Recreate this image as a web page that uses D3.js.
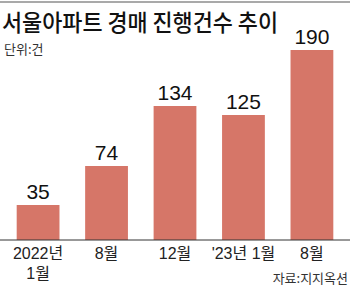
<!DOCTYPE html>
<html><head><meta charset="utf-8">
<script src="https://cdn.jsdelivr.net/npm/d3@7/dist/d3.min.js"></script>
<style>body{margin:0;background:#fff}svg{display:block}</style>
</head><body>
<script>
const categories = [["2022년","1월"],["8월"],["12월"],["'23년 1월"],["8월"]];
const values = [35, 74, 134, 125, 190];
const title = "서울아파트 경매 진행건수 추이";
const unit = "단위:건";
const source = "자료:지지옥션";

const W = 350, H = 288;
const svg = d3.select("body").append("svg").attr("width", W).attr("height", H);
const kr = "'Noto Sans CJK KR', sans-serif";
const num = "'Liberation Sans Narrow', 'Liberation Sans', 'Noto Sans CJK KR', sans-serif";
const x = d3.scaleBand().domain(d3.range(values.length)).range([3, 347]).paddingInner(0.375).paddingOuter(0.2);
const y = d3.scaleLinear().domain([0, 190]).range([240, 50]);

svg.append("line").attr("x1",0).attr("x2",W).attr("y1",2).attr("y2",2).attr("stroke","#8c8c8c").attr("stroke-width",1.5);
svg.append("text").attr("x",2).attr("y",31).attr("font-family",kr).attr("font-size",23).attr("font-weight",500)
  .attr("fill","#111").attr("textLength",276).attr("lengthAdjust","spacingAndGlyphs").text(title);
svg.append("text").attr("x",4).attr("y",54).attr("font-family",kr).attr("font-size",13).attr("fill","#333").text(unit);

svg.selectAll("rect.bar").data(values).join("rect").attr("class","bar")
  .attr("x",(d,i)=>x(i)).attr("width",x.bandwidth()).attr("y",d=>y(d)).attr("height",d=>y(0)-y(d)).attr("fill","#d67668");

svg.selectAll("text.val").data(values).join("text").attr("class","val")
  .attr("x",(d,i)=>x(i)+x.bandwidth()/2).attr("y",d=>y(d)-6).attr("text-anchor","middle")
  .attr("font-family",num).attr("font-size",21).attr("fill","#111").text(d=>d);

svg.append("line").attr("x1",0).attr("x2",W).attr("y1",y(0)).attr("y2",y(0)).attr("stroke","#333").attr("stroke-width",1);

categories.forEach((lines,i)=>{
  const t = svg.append("text").attr("text-anchor","middle").attr("font-family",num).attr("font-size",16).attr("fill","#222");
  lines.forEach((l,j)=>t.append("tspan").attr("x",x(i)+x.bandwidth()/2).attr("y",259+j*20).text(l));
});
svg.append("text").attr("x",348).attr("y",283).attr("text-anchor","end").attr("font-family",kr).attr("font-size",13).attr("fill","#333").text(source);
</script>
</body></html>
